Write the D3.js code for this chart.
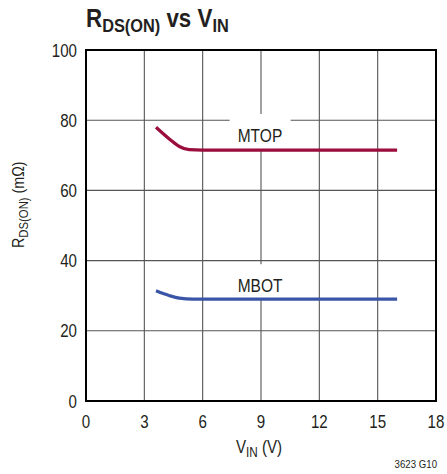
<!DOCTYPE html>
<html>
<head>
<meta charset="utf-8">
<script src="https://cdn.jsdelivr.net/npm/d3@7"></script>
<style>
  body { margin: 0; background: #fff; }
  text { font-family: "Liberation Sans", Arial, sans-serif; fill: #231f20; }
</style>
</head>
<body>
<div id="chart"></div>
<script>
// x: input voltage (V), y: on-resistance (mOhm)
const xTicks = [0, 3, 6, 9, 12, 15, 18];
const yTicks = [0, 20, 40, 60, 80, 100];

const mtopVin = [3.6, 4.3, 4.8, 5.3, 6, 16];
const mtopR   = [78, 74.6, 72.5, 71.6, 71.5, 71.5];

const mbotVin = [3.6, 4.3, 4.8, 5.5, 6, 16];
const mbotR   = [31.4, 30.0, 29.3, 29.0, 29.0, 29.0];

const seriesNames = ['MTOP', 'MBOT'];
const labelPos = [[7.8, 73.8], [7.8, 31.0]];   // label anchor (V, mOhm)
const colors = ['#9b0d3c', '#3a55a8'];

const margin = { left: 86, top: 50, right: 11, bottom: 73 };
const W = 447, H = 474;
const NARROW = 0.84;   // no condensed font installed, squeeze the text instead

const svg = d3.select('#chart').append('svg').attr('width', W).attr('height', H);

const x = d3.scaleLinear().domain([0, 18]).range([margin.left, W - margin.right]);
const y = d3.scaleLinear().domain([0, 100]).range([H - margin.bottom, margin.top]);

// place a text at (px, py), squeezed horizontally
function place(sel, px, py, sx, rot) {
  return sel.attr('transform', 'translate(' + px + ',' + py + ')' +
                  (rot ? ' rotate(' + rot + ')' : '') + ' scale(' + (sx || NARROW) + ',1)');
}

/* --- grid */
const grid = svg.append('g').attr('stroke', '#555').attr('stroke-width', 1.1);
grid.selectAll('line.v').data(xTicks.slice(1, -1)).enter().append('line')
    .attr('x1', d => x(d)).attr('x2', d => x(d))
    .attr('y1', y(0)).attr('y2', y(100));
grid.selectAll('line.h').data(yTicks.slice(1, -1)).enter().append('line')
    .attr('y1', d => y(d)).attr('y2', d => y(d))
    .attr('x1', x(0)).attr('x2', x(18));

/* --- white boxes behind curve labels */
const boxes = svg.append('g');
labelPos.forEach(p => {
  boxes.append('rect')
       .attr('x', x(p[0]) - 8).attr('width', 61)
       .attr('y', y(p[1]) - 28).attr('height', 36)
       .attr('fill', '#fff');
});

/* --- curves */
const series = [
  { vin: mtopVin, r: mtopR },
  { vin: mbotVin, r: mbotR }
];
const line = d3.line().curve(d3.curveMonotoneX);
svg.append('g').selectAll('path').data(series).enter().append('path')
    .attr('d', s => line(s.vin.map((v, i) => [x(v), y(s.r[i])])))
    .attr('fill', 'none')
    .attr('stroke', (d, i) => colors[i])
    .attr('stroke-width', 3.2);

svg.append('g').selectAll('text').data(seriesNames).enter().append('text')
    .attr('font-size', 18.5)
    .text(d => d)
    .each(function(d, i) {
      place(d3.select(this), x(labelPos[i][0]), y(labelPos[i][1]));
    });

/* --- frame */
svg.append('rect')
   .attr('x', x(0)).attr('y', y(100))
   .attr('width', x(18) - x(0)).attr('height', y(0) - y(100))
   .attr('fill', 'none').attr('stroke', '#000').attr('stroke-width', 2);

/* --- tick labels */
svg.append('g').selectAll('text').data(xTicks).enter().append('text')
   .attr('text-anchor', 'middle').attr('font-size', 18)
   .text(d => d)
   .each(function(d) { place(d3.select(this), x(d), 428); });

svg.append('g').selectAll('text').data(yTicks).enter().append('text')
   .attr('text-anchor', 'end').attr('font-size', 18)
   .text(d => d)
   .each(function(d) { place(d3.select(this), 77, y(d) + 6.5); });

/* --- axis titles */
const xt = place(svg.append('text'), 259, 453)
   .attr('text-anchor', 'middle').attr('font-size', 18);
xt.append('tspan').text('V');
xt.append('tspan').attr('dy', 4).attr('font-size', 14).text('IN');
xt.append('tspan').attr('dy', -4).text(' (V)');

const yt = place(svg.append('text'), 24, 248, NARROW, -90)
   .attr('font-size', 17);
yt.append('tspan').text('R');
yt.append('tspan').attr('dy', 4).attr('font-size', 13.5).text('DS(ON)');
yt.append('tspan').attr('dy', -4).text(' (mΩ)');

/* --- chart title */
const title = place(svg.append('text'), 86, 27, 0.86)
   .attr('font-size', 26).attr('font-weight', 'bold');
title.append('tspan').text('R');
title.append('tspan').attr('dy', 5).attr('font-size', 19).text('DS(ON)');
title.append('tspan').attr('dy', -5).text(' vs V');
title.append('tspan').attr('dy', 5).attr('font-size', 19).text('IN');

/* --- figure id */
place(svg.append('text'), 437, 468)
   .attr('text-anchor', 'end').attr('font-size', 11.5)
   .text('3623 G10');
</script>
</body>
</html>
